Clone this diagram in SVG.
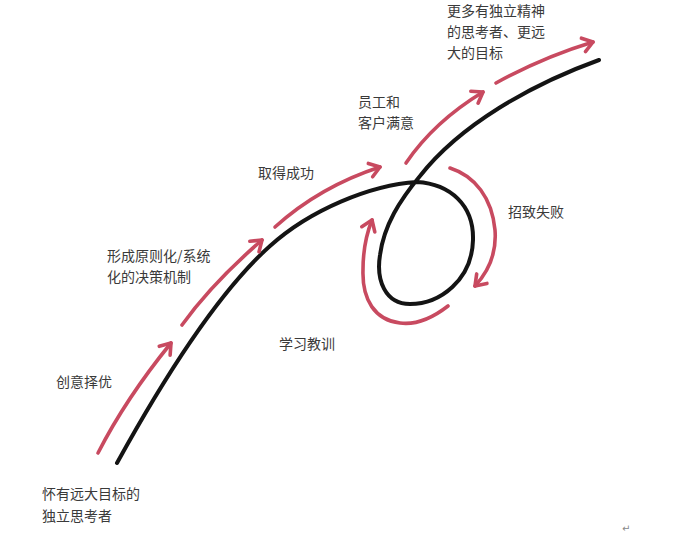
<svg xmlns="http://www.w3.org/2000/svg" width="688" height="536" viewBox="0 0 688 536">
<style>
.t{font-family:"Noto Sans CJK SC","Liberation Serif",serif;font-size:14px;fill:#3a3a3a}
.b{fill:none;stroke:#141414;stroke-width:4;stroke-linecap:round}
.r{fill:none;stroke:#c84a60;stroke-width:3.6;stroke-linecap:round;marker-end:url(#ah)}
</style>
<defs>
<marker id="ah" markerUnits="userSpaceOnUse" markerWidth="24" markerHeight="24" refX="0" refY="0" viewBox="-14 -12 18 24" orient="auto" overflow="visible">
<path d="M-10,-7 L0,0 L-10,7" fill="none" stroke="#c84a60" stroke-width="3.6" stroke-linecap="round" stroke-linejoin="round"/>
</marker>
</defs>
<rect width="688" height="536" fill="#fff"/>
<g id="connectors">
<path id="main-line" class="b" d="M117,463 C160,385 215,295 270,246 C310,210 370,185 417,182 C450,184 474,205 473,240 C472,280 440,304 410,304 C385,304 376,280 380,255 C384,225 400,200 420,176 C460,125 530,85 599,60"/>
<path class="r" d="M98,453 C120,410 145,375 171,343"/>
<path class="r" d="M182,325 C205,293 232,266 262,240"/>
<path class="r" d="M275,227 C305,200 340,180 380,167"/>
<path class="r" d="M406,163 C425,135 450,112 483,92"/>
<path class="r" d="M496,83 C525,67 560,52 593,42"/>
<path class="r" d="M450,168 C475,176 492,198 495,230 C497,255 488,272 475,286"/>
<path class="r" d="M448,306 C430,320 415,325 400,323 C375,320 362,300 363,270 C363,250 366,235 372,220"/>
</g>
<g id="n-start"><text class="t" x="42" y="499">怀有远大目标的</text><text class="t" x="42" y="521">独立思考者</text></g>
<g id="n-idea"><text class="t" x="56" y="387">创意择优</text></g>
<g id="n-principle"><text class="t" x="107" y="261">形成原则化/系统</text><text class="t" x="107" y="282">化的决策机制</text></g>
<g id="n-success"><text class="t" x="258" y="178">取得成功</text></g>
<g id="n-satisfy"><text class="t" x="358" y="107">员工和</text><text class="t" x="358" y="128">客户满意</text></g>
<g id="n-goal"><text class="t" x="447" y="16">更多有独立精神</text><text class="t" x="447" y="37">的思考者、更远</text><text class="t" x="447" y="58">大的目标</text></g>
<g id="n-fail"><text class="t" x="508" y="217">招致失败</text></g>
<g id="n-learn"><text class="t" x="279" y="349">学习教训</text></g>
<text x="622" y="532" style="font-family:'DejaVu Sans',sans-serif;font-size:10px;fill:#888">↵</text>
</svg>
